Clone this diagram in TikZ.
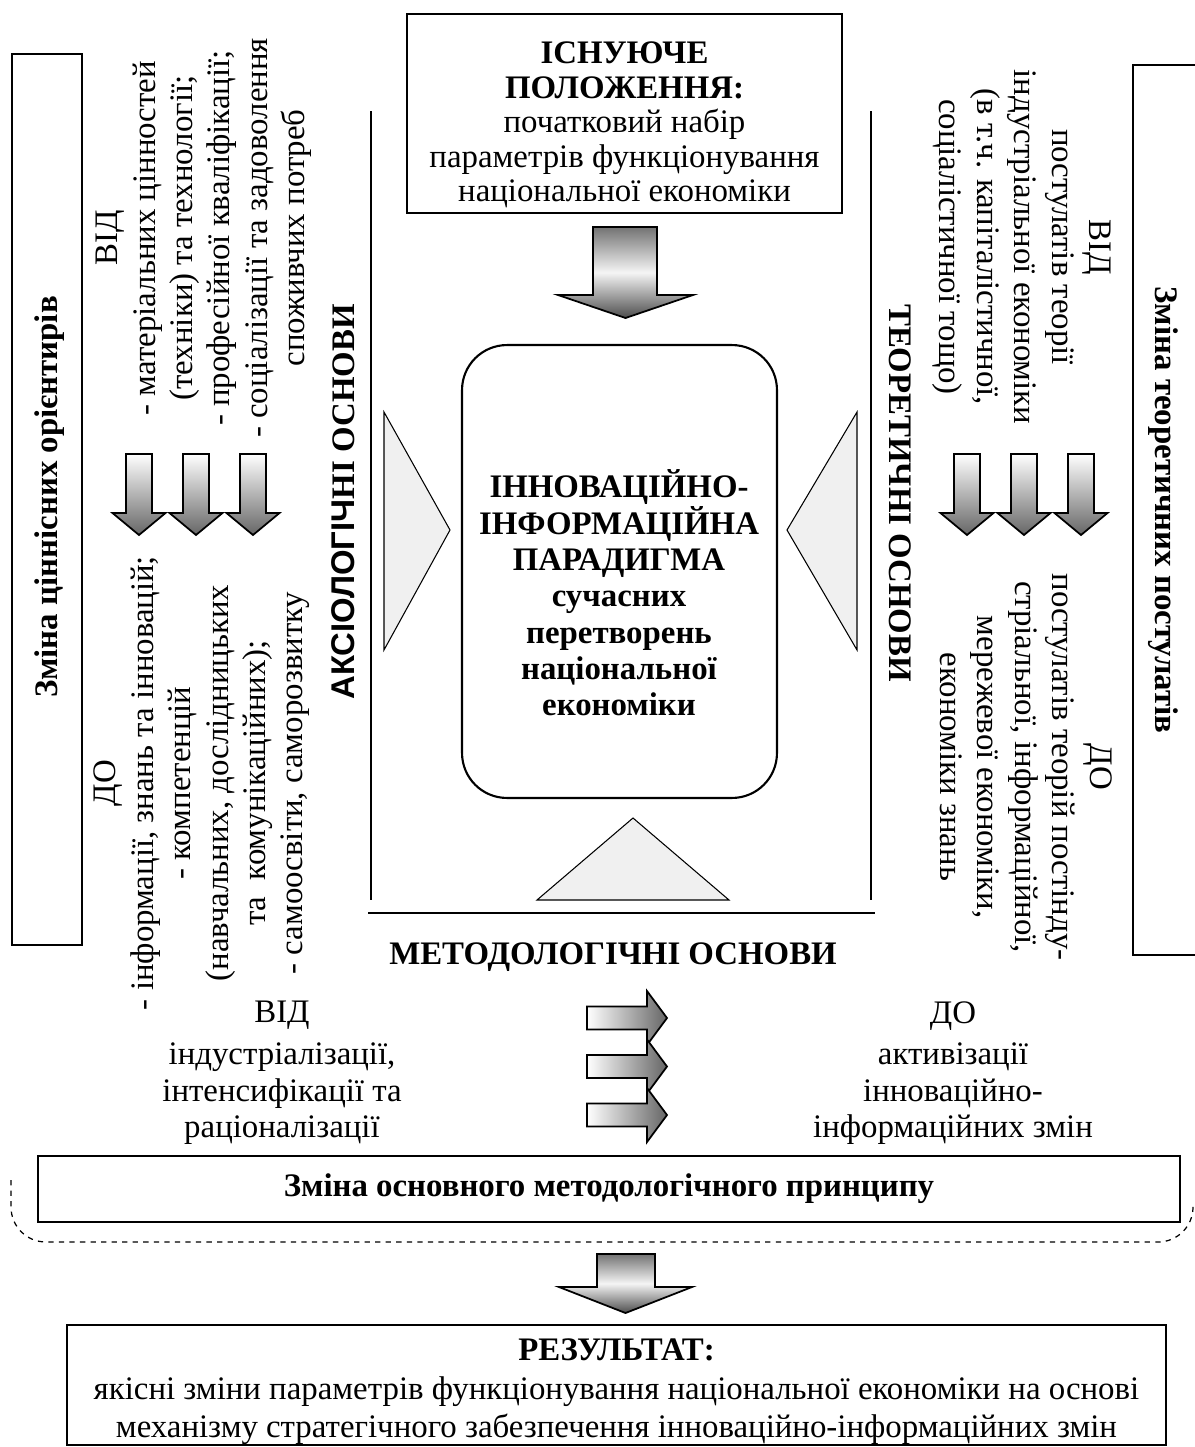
\documentclass[tikz,border=0pt]{standalone}
\usepackage{fontspec}
\setmainfont{Liberation Serif}
\setsansfont{Liberation Sans}
\usetikzlibrary{positioning}

\newcommand\setfs[1]{\fontsize{18.7}{#1}\selectfont}

\begin{document}
\begin{tikzpicture}[x=0.02cm,y=-0.02cm,
        frame/.style={draw,line width=1.2pt,inner sep=0pt},
        wedge/.style={draw,line width=0.6pt,fill=black!6},
        downarr/.style={draw,line width=1pt,top color=white,bottom color=black!60},
        rightarr/.style={draw,line width=1pt,left color=white,right color=black!60},
        bigarr/.style={draw,line width=1pt,top color=black!55,bottom color=black!70,middle color=black!4},
        lbl/.style={align=center,inner sep=0pt},
        side/.style={inner sep=0pt,font=\setfs{21}\bfseries}]
    \useasboundingbox (0,0) rectangle (1195,1447);
    \clip (0,0) rectangle (1195,1447);

    % boxes
    \node[frame,minimum width=8.7cm,minimum height=3.98cm] (state) at (624.5,113.5) {};
    \node[frame,rounded corners=0.9cm,minimum width=6.3cm,minimum height=9.06cm] (paradigm) at (619.5,571.5) {};
    \node[frame,minimum width=1.4cm,minimum height=17.82cm] (valbox) at (47,499.5) {};
    \node[frame,minimum width=1.64cm,minimum height=17.8cm] (theorybox) at (1174,510) {};
    \node[frame,minimum width=22.84cm,minimum height=1.32cm,font=\setfs{21}\bfseries] (principle) at (609,1189) {Зміна основного методологічного принципу};
    \node[frame,minimum width=21.98cm,minimum height=2.4cm] (result) at (616.5,1385) {};

    % texts
    \node[lbl,font=\setfs{19.6}] (stateText) at (624.5,125) {\textbf{ІСНУЮЧЕ}\\\textbf{ПОЛОЖЕННЯ:}\\початковий набір\\параметрів функціонування\\національної економіки};
    \node[lbl,font=\setfs{20.7}\bfseries] (paradigmText) at (619,593) {ІННОВАЦІЙНО-\\ІНФОРМАЦІЙНА\\ПАРАДИГМА\\сучасних\\перетворень\\національної\\економіки};
    \node[lbl,font=\setfs{21.9}] (resultText) at (616.5,1392) {\textbf{РЕЗУЛЬТАТ:}\\якісні зміни параметрів функціонування національної економіки на основі\\механізму стратегічного забезпечення інноваційно-інформаційних змін};

    \node[side,rotate=90] (valLabel) at (50,497) {Зміна ціннісних орієнтирів};
    \node[side,rotate=-90] (theoryLabel) at (1163,510) {Зміна теоретичних постулатів};
    \node[side,rotate=90] (axio) at (343,502) {\textsf{АКСІОЛОГІЧ}НІ ОСНОВИ};
    \node[side,rotate=-90] (theor) at (900,493) {ТЕОРЕТИЧНІ ОСНОВИ};
    \node[side] (method) at (613,957) {МЕТОДОЛОГІЧНІ ОСНОВИ};

    \node[lbl,rotate=90,font=\setfs{21.3}] (valFrom) at (204,238) {ВІД\\- матеріальних цінностей\\(техніки) та технології;\\- професійної кваліфікації;\\- соціалізації та задоволення\\споживчих потреб};
    \node[lbl,rotate=90,font=\setfs{21.3}] (valTo) at (202,783) {ДО\\- інформації, знань та інновацій;\\- компетенцій\\(навчальних, дослідницьких\\та\ \ комунікаційних);\\- самоосвіти, саморозвитку};
    \node[lbl,rotate=-90,font=\setfs{21.3}] (theoryFrom) at (1022,247) {ВІД\\постулатів теорії\\індустріальної економіки\\(в т.ч. капіталістичної,\\соціалістичної тощо)};
    \node[lbl,rotate=-90,font=\setfs{21.3}] (theoryTo) at (1026,767) {ДО\\постулатів теорій постінду-\\стріальної, інформаційної,\\мережевої економіки,\\економіки знань};
    \node[lbl,font=\setfs{20.8}] (methodFrom) at (282,1073) {ВІД\\[0.1cm]індустріалізації,\\інтенсифікації та\\раціоналізації};
    \node[lbl,font=\setfs{20.8}] (methodTo) at (953,1073) {ДО\\[0.1cm]активізації\\інноваційно-\\інформаційних змін};

    % frame lines
    \draw[line width=0.9pt] (371,111) -- (371,900);
    \draw[line width=0.9pt] (871,111) -- (871,900);
    \draw[line width=0.9pt] (368,913) -- (875,913);

    % wedges pointing to the paradigm
    \draw[wedge] (384,412) -- (450,530) -- (384,650) -- cycle;
    \draw[wedge] (857,412) -- (787,530) -- (857,650) -- cycle;
    \draw[wedge] (537,900) -- (633,818) -- (729,900) -- cycle;

    % block arrows
    \draw[bigarr] (593,227) -- (657,227) -- (657,295) -- (693,295) -- (625.5,318) -- (558,295) -- (593,295) -- cycle;
    \draw[bigarr] (597,1254) -- (655,1254) -- (655,1287) -- (692,1287) -- (625.5,1313) -- (559,1287) -- (597,1287) -- cycle;
    \foreach \x in {139,196,253,967,1024,1081}
        \draw[downarr] (\x-13,454) -- (\x+13,454) -- (\x+13,513) -- (\x+26.5,513) -- (\x,535) -- (\x-26.5,513) -- (\x-13,513) -- cycle;
    \foreach \y in {1018,1066.5,1115}
        \draw[rightarr] (587,\y-11.5) -- (647,\y-11.5) -- (647,\y-27) -- (667,\y) -- (647,\y+27) -- (647,\y+11.5) -- (587,\y+11.5) -- cycle;

    % dashed bracket
    \draw[dashed,line width=0.7pt,rounded corners=0.7cm] (11,1180) -- (11,1242) -- (1193,1242) -- (1193,1205);
\end{tikzpicture}
\end{document}
